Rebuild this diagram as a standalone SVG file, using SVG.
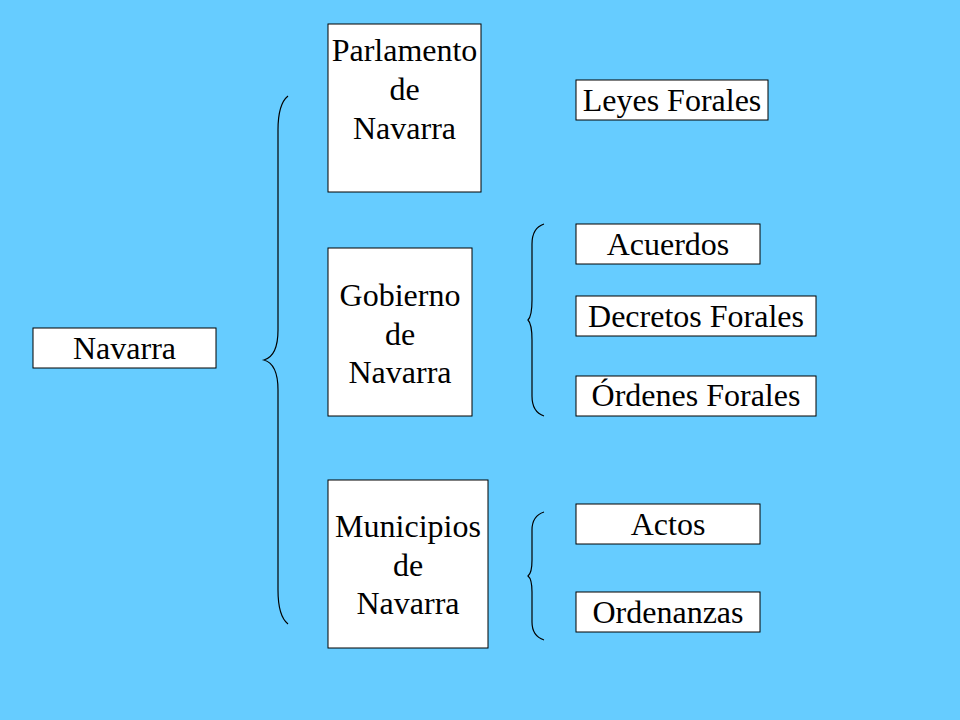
<svg xmlns="http://www.w3.org/2000/svg" width="960" height="720" viewBox="0 0 960 720">
<style>
.box{fill:#fff;stroke:#000;stroke-width:1}
.t{font-family:'Liberation Serif','Times New Roman',Times,serif;font-size:32px;fill:#000;text-anchor:middle}
.br{fill:none;stroke:#000;stroke-width:1.2}
</style>
<rect width="960" height="720" fill="#66CCFF"/>
<g id="connectors">
<path class="br" d="M288,96 Q278,104 278,130 L278,330 Q278,356 264,360 Q278,364 278,390 L278,590 Q278,616 288,624"/>
<path class="br" d="M544,224 Q532,228 532,244 L532,300 Q532,316 528,320 Q532,324 532,340 L532,396 Q532,412 544,416"/>
<path class="br" d="M544,512 Q532,516 532,530 L532,560 Q532,573 528,576 Q532,579 532,592 L532,622 Q532,636 544,640"/>
</g>
<g id="navarra"><rect class="box" x="33" y="328" width="183" height="40"/><text class="t" x="124.5" y="359">Navarra</text></g>
<g id="parlamento"><rect class="box" x="328" y="24" width="153" height="168"/><text class="t" x="404.5" y="61">Parlamento</text><text class="t" x="404.5" y="100">de</text><text class="t" x="404.5" y="139">Navarra</text></g>
<g id="gobierno"><rect class="box" x="328" y="248" width="144" height="168"/><text class="t" x="400" y="306">Gobierno</text><text class="t" x="400" y="345">de</text><text class="t" x="400" y="383">Navarra</text></g>
<g id="municipios"><rect class="box" x="328" y="480" width="160" height="168"/><text class="t" x="408" y="537">Municipios</text><text class="t" x="408" y="576">de</text><text class="t" x="408" y="614">Navarra</text></g>
<g id="leyes"><rect class="box" x="576" y="80" width="192" height="40"/><text class="t" x="672" y="111">Leyes Forales</text></g>
<g id="acuerdos"><rect class="box" x="576" y="224" width="184" height="40"/><text class="t" x="668" y="255">Acuerdos</text></g>
<g id="decretos"><rect class="box" x="576" y="296" width="240" height="40"/><text class="t" x="696" y="327">Decretos Forales</text></g>
<g id="ordenes"><rect class="box" x="576" y="376" width="240" height="40"/><text class="t" x="696" y="406">Órdenes Forales</text></g>
<g id="actos"><rect class="box" x="576" y="504" width="184" height="40"/><text class="t" x="668" y="535">Actos</text></g>
<g id="ordenanzas"><rect class="box" x="576" y="592" width="184" height="40"/><text class="t" x="668" y="623">Ordenanzas</text></g>
</svg>
